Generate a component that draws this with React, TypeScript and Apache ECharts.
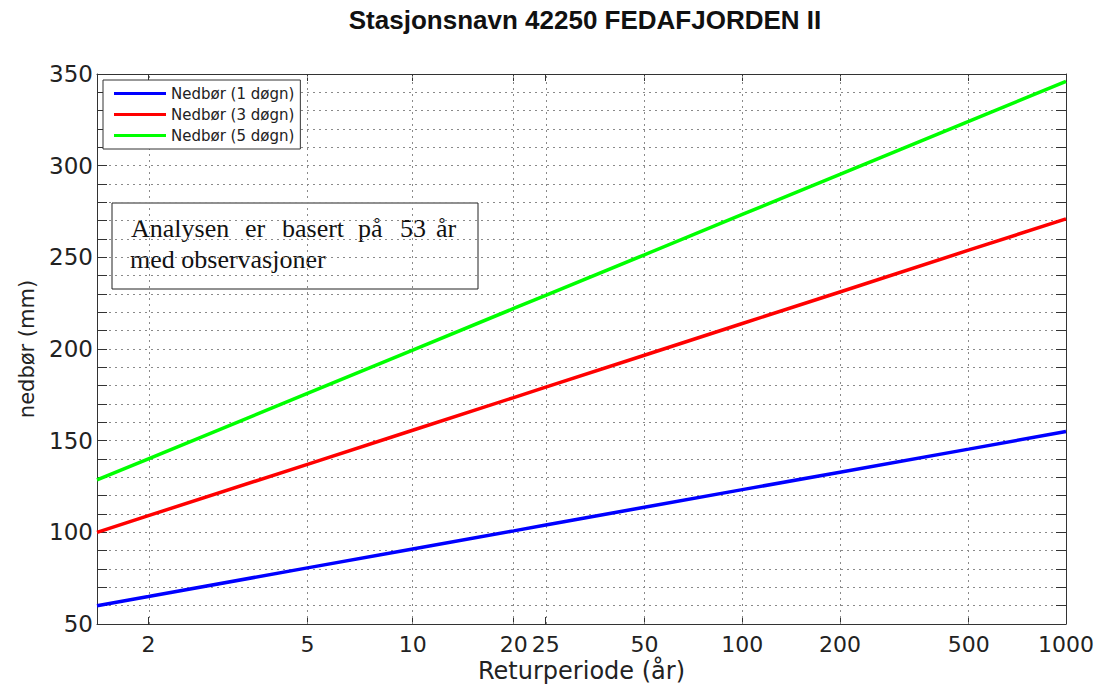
import React, { useEffect, useRef } from "react";
import * as echarts from "echarts";

// Return periods (years) at which the curves are read, starting at the left edge of the plot
const returnPeriods = [1.582, 2, 5, 10, 20, 25, 50, 100, 200, 500, 1000];
const precip1Day = [60.0, 65.0, 80.6, 90.9, 100.8, 104.0, 113.7, 123.3, 132.8, 145.4, 155.0];
const precip3Day = [100.0, 109.1, 137.1, 155.7, 173.5, 179.2, 196.6, 213.9, 231.1, 253.9, 271.0];
const precip5Day = [128.6, 140.1, 175.8, 199.4, 222.1, 229.3, 251.4, 273.4, 295.3, 324.1, 346.0];
const xTickPeriods = [2, 5, 10, 20, 25, 50, 100, 200, 500, 1000];
const seriesNames = ["Nedbør (1 døgn)", "Nedbør (3 døgn)", "Nedbør (5 døgn)"];
const seriesColors = ["#0000ff", "#ff0000", "#00ff00"];
const titleText = "Stasjonsnavn 42250 FEDAFJORDEN II";
const yAxisName = "nedbør (mm)";
const xAxisName = "Returperiode (år)";
const noteLine1Words = ["Analysen", "er", "basert", "på", "53", "år"];
const noteLine2 = "med observasjoner";

// Gumbel reduced variate for a return period
const gumbel = (T: number) => -Math.log(-Math.log(1 - 1 / T));
const periodFromGumbel = (y: number) => 1 / (1 - Math.exp(-Math.exp(-y)));

const SANS = "'DejaVu Sans', sans-serif";
const SERIF = "26px 'Liberation Serif', 'Times New Roman', serif";

export default function App() {
  const ref = useRef<HTMLDivElement>(null);
  useEffect(() => {
    if (!ref.current) return;
    const chart = echarts.init(ref.current, undefined, { renderer: "svg", width: 1101, height: 684 });
    const xMax = gumbel(1000);
    const tickVals = xTickPeriods.map(gumbel);
    const dotted = { color: "#8a8a8a", type: [2, 4] as number[], width: 1 };
    const axisDark = { color: "#333", width: 1 };
    const allSeries = [precip1Day, precip3Day, precip5Day].map((vals, i) => ({
      name: seriesNames[i],
      type: "line",
      xAxisIndex: 0,
      yAxisIndex: 0,
      showSymbol: false,
      symbol: "none",
      color: seriesColors[i],
      lineStyle: { color: seriesColors[i], width: 3.5 },
      emphasis: { disabled: true },
      data: returnPeriods.map((T, k) => [gumbel(T), vals[k]]),
      z: 3,
      ...(i === 0
        ? {
            markLine: {
              silent: true,
              symbol: ["none", "none"],
              label: { show: false },
              lineStyle: dotted,
              emphasis: { disabled: true },
              z: 1,
              data: xTickPeriods.slice(0, -1).map((T) => ({ xAxis: gumbel(T) })),
            },
          }
        : {}),
    }));

    const noteX = [131, 245, 282, 358, 400, 436];

    chart.setOption({
      animation: false,
      backgroundColor: "#fff",
      title: {
        text: titleText,
        left: 580,
        textAlign: "center",
        top: 2,
        textStyle: {
          fontFamily: "'Liberation Sans', Arial, sans-serif",
          fontWeight: "bold",
          fontSize: 26,
          color: "#111",
        },
      },
      legend: {
        orient: "vertical",
        left: 103,
        top: 80,
        icon: "rect",
        itemWidth: 52,
        itemHeight: 3,
        itemGap: 6,
        padding: [6, 6, 6, 11],
        borderColor: "#333",
        borderWidth: 1,
        backgroundColor: "#fff",
        textStyle: { fontFamily: SANS, fontSize: 15, color: "#222" },
        data: seriesNames,
        selectedMode: false,
        z: 10,
      },
      grid: { left: 97, right: 35, top: 74, bottom: 60, outerBoundsMode: "none", containLabel: false },
      xAxis: [
        {
          type: "value",
          position: "bottom",
          min: 0,
          max: xMax,
          axisLine: { show: true, onZero: false, lineStyle: axisDark },
          axisTick: { show: true, inside: true, length: 7, customValues: tickVals, lineStyle: axisDark },
          axisLabel: {
            show: true,
            customValues: tickVals,
            margin: 9,
            fontFamily: SANS,
            fontSize: 22,
            color: "#222",
            formatter: (v: number) => String(Math.round(periodFromGumbel(v))),
          },
          splitLine: { show: false },
          name: xAxisName,
          nameLocation: "middle",
          nameGap: 35,
          nameMoveOverlap: false,
          nameTextStyle: { fontFamily: SANS, fontSize: 24, color: "#222" },
        },
        {
          type: "value",
          position: "top",
          min: 0,
          max: xMax,
          axisLine: { show: true, onZero: false, lineStyle: axisDark },
          axisTick: { show: true, inside: true, length: 7, customValues: tickVals, lineStyle: axisDark },
          axisLabel: { show: false, customValues: tickVals },
          splitLine: { show: false },
        },
      ],
      yAxis: [
        {
          type: "value",
          position: "left",
          min: 50,
          max: 350,
          interval: 50,
          axisLine: { show: true, onZero: false, lineStyle: axisDark },
          axisTick: { show: true, inside: true, length: 10, lineStyle: axisDark },
          minorTick: { show: true, splitNumber: 5, length: 10, lineStyle: axisDark },
          splitLine: { show: true, lineStyle: dotted },
          minorSplitLine: { show: true, lineStyle: dotted },
          axisLabel: { margin: 4, fontFamily: SANS, fontSize: 23, color: "#222" },
          name: yAxisName,
          nameLocation: "middle",
          nameGap: 60,
          nameMoveOverlap: false,
          nameTextStyle: { fontFamily: SANS, fontSize: 21, color: "#222" },
        },
        {
          type: "value",
          position: "right",
          min: 50,
          max: 350,
          interval: 50,
          axisLine: { show: true, onZero: false, lineStyle: axisDark },
          axisTick: { show: true, inside: true, length: 10, lineStyle: axisDark },
          minorTick: { show: true, splitNumber: 5, length: 10, lineStyle: axisDark },
          splitLine: { show: false },
          axisLabel: { show: false },
        },
      ],
      graphic: [
        {
          type: "group",
          z: 20,
          children: [
            {
              type: "rect",
              shape: { x: 112, y: 203, width: 366, height: 86 },
              style: { fill: "#fff", stroke: "#222", lineWidth: 1 },
            },
            ...noteLine1Words.map((w, i) => ({
              type: "text",
              x: noteX[i],
              y: 228,
              style: { text: w, font: SERIF, fill: "#111", verticalAlign: "middle" },
            })),
            {
              type: "text",
              x: 130,
              y: 259,
              style: { text: noteLine2, font: SERIF, fill: "#111", verticalAlign: "middle" },
            },
          ],
        },
      ],
      series: allSeries,
    });
    return () => chart.dispose();
  }, []);
  return <div ref={ref} style={{ width: 1101, height: 684, position: "absolute", left: 0, top: 0 }} />;
}
